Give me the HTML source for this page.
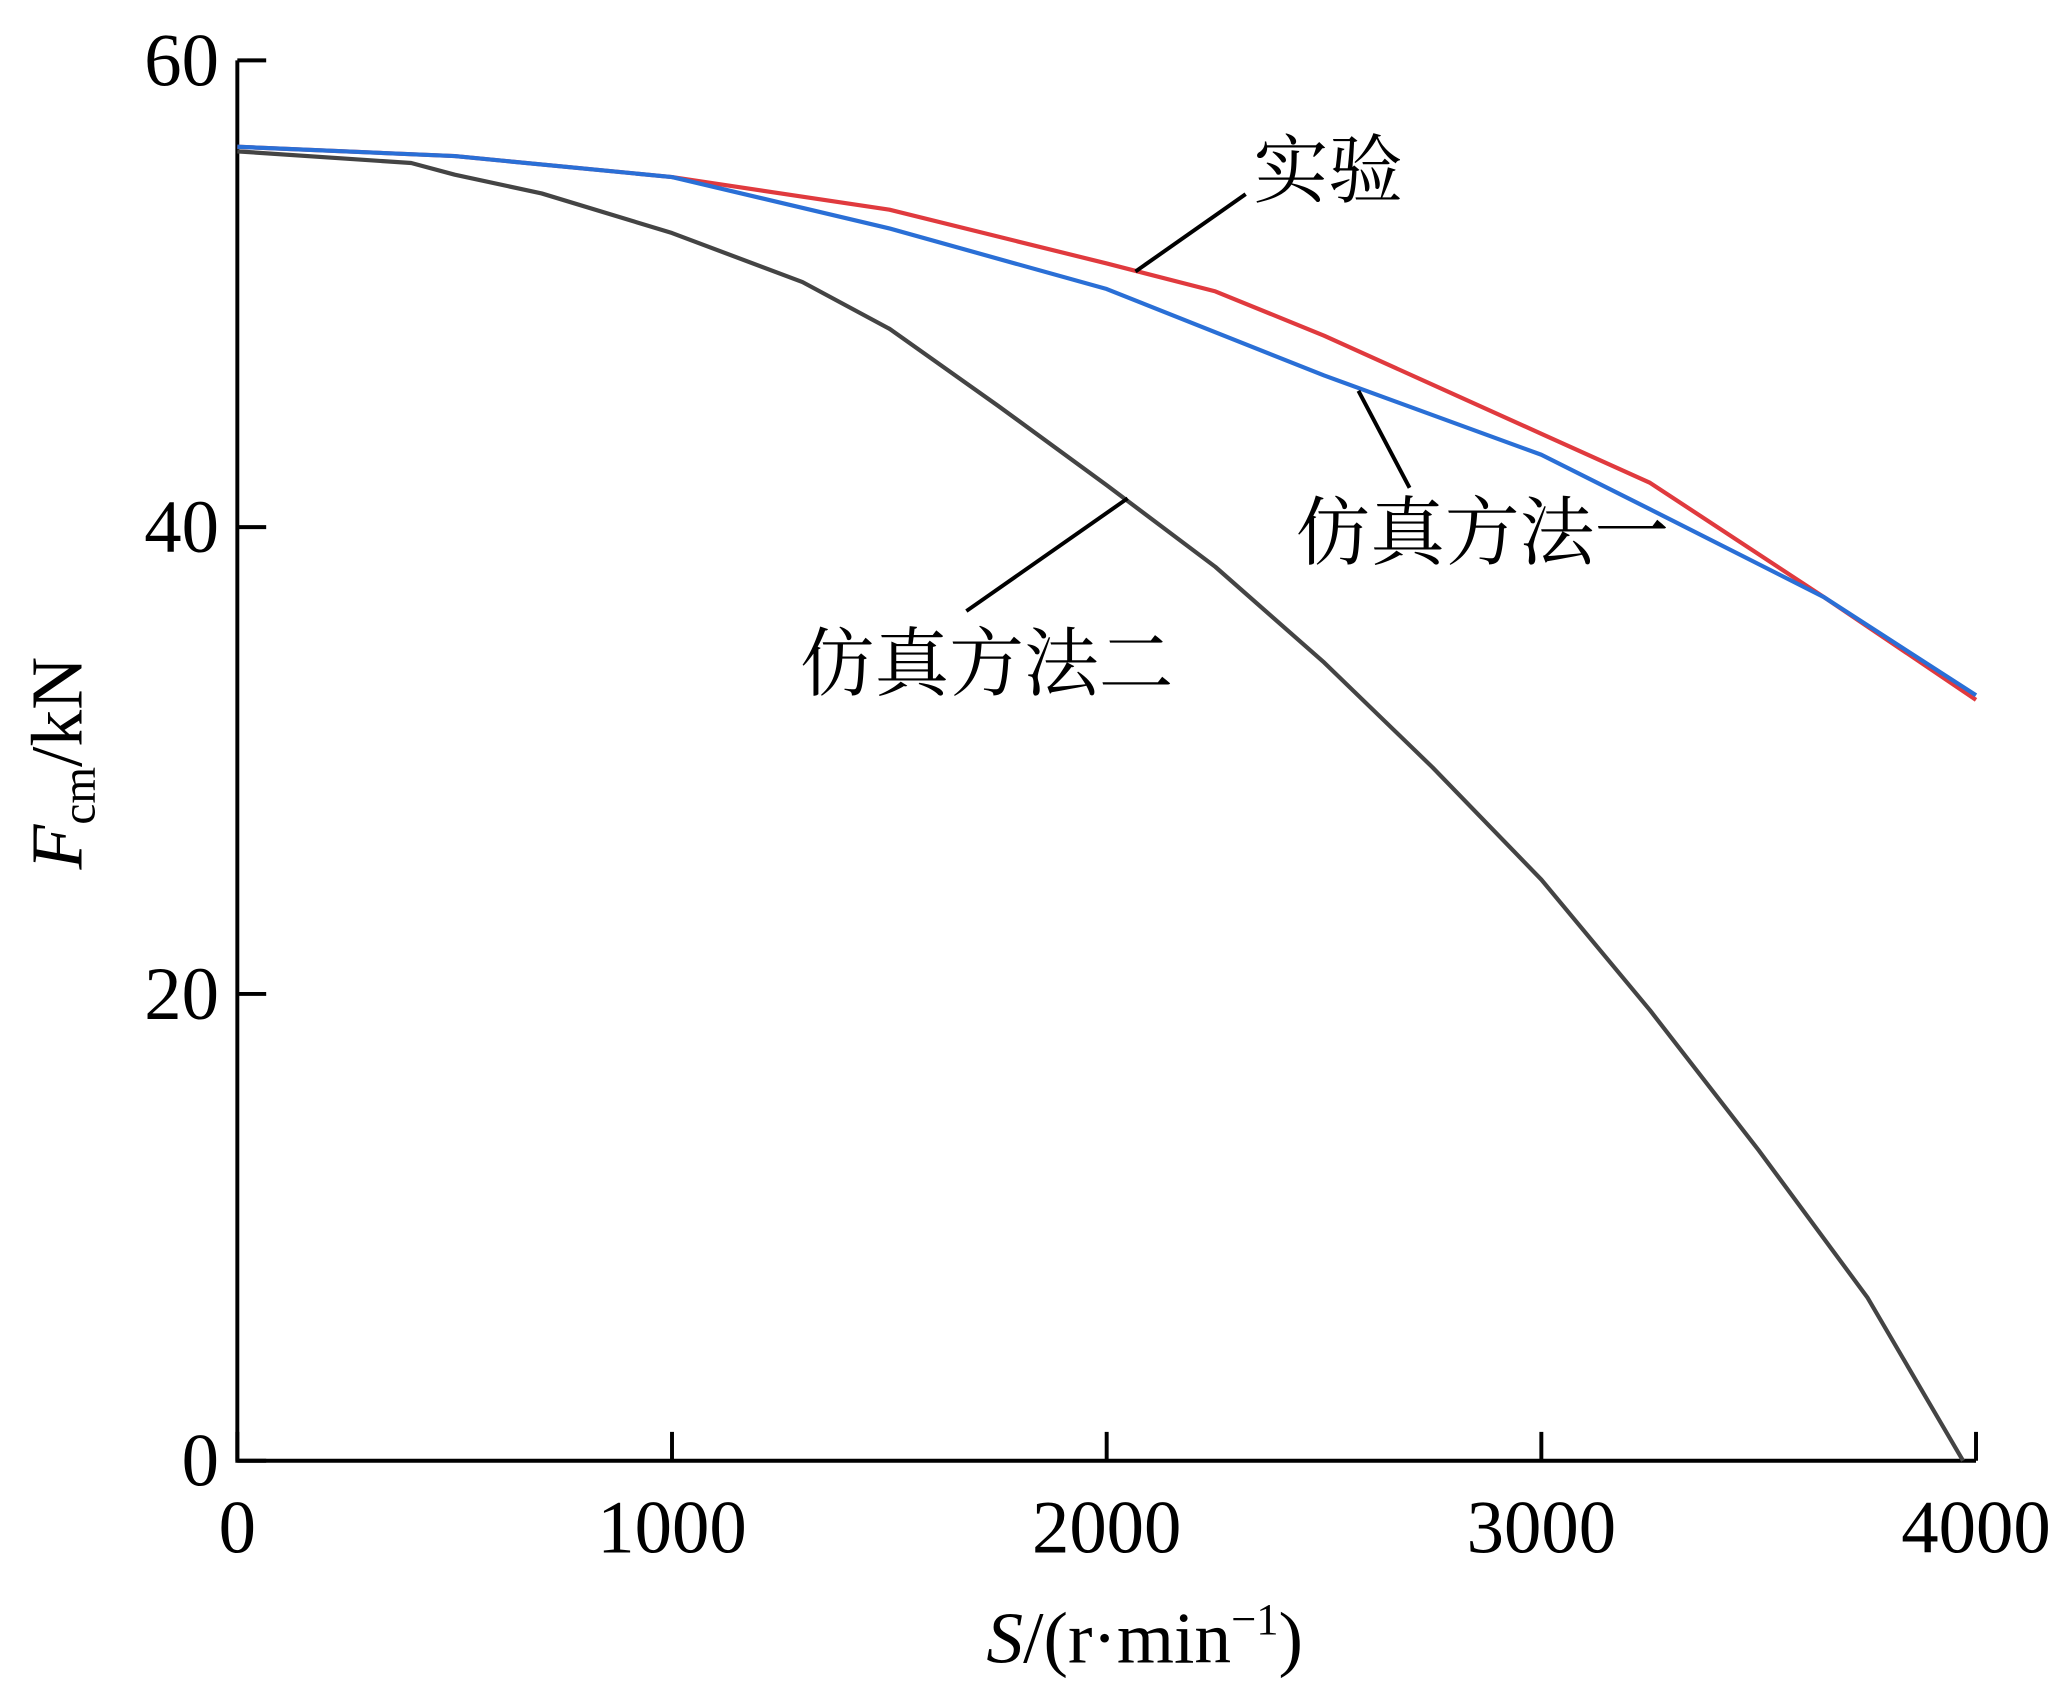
<!DOCTYPE html>
<html><head><meta charset="utf-8"><style>
html,body{margin:0;padding:0;background:#fff}
svg{display:block}
text{font-family:"Liberation Serif","Noto Serif CJK SC",serif;fill:#000}
</style></head><body>
<svg id="chart" width="2056" height="1685" viewBox="0 0 1568 1285" xmlns="http://www.w3.org/2000/svg">
<g id="axes"></g>
<g id="series"></g>
<g stroke="#000" stroke-width="3" fill="none">
<line x1="866" y1="207" x2="950" y2="148"/>
<line x1="1036" y1="298" x2="1075" y2="372"/>
<line x1="860" y1="380" x2="737" y2="466"/>
</g>
<text x="956" y="150" font-size="57">实验</text>
<text x="988" y="426" font-size="57">仿真方法一</text>
<text x="610" y="526" font-size="57">仿真方法二</text>
<text transform="translate(62,582) rotate(-90)" text-anchor="middle" font-size="56"><tspan font-style="italic">F</tspan><tspan font-size="36" dy="10">cm</tspan><tspan dy="-10">/kN</tspan></text>
<text x="873" y="1268" text-anchor="middle" font-size="56"><tspan font-style="italic">S</tspan>/(r·min<tspan font-size="34" dy="-22">−1</tspan><tspan dy="22">)</tspan></text>
</svg>
<script>
const xTicks=[0,1000,2000,3000,4000];
const yTicks=[0,20,40,60];
const expX=[0,500,1000,1500,2000,2250,2500,3000,3250,3650,4000];
const expY=[56.3,55.9,55.0,53.6,51.3,50.1,48.2,44.0,41.9,37.0,32.6];
const m1X=[0,500,1000,1500,2000,2500,3000,3300,3650,4000];
const m1Y=[56.3,55.9,55.0,52.8,50.2,46.5,43.1,40.3,37.0,32.8];
const m2X=[0,400,500,700,1000,1300,1500,1750,2000,2250,2500,2750,3000,3250,3500,3750,3970];
const m2Y=[56.1,55.6,55.1,54.3,52.6,50.5,48.5,45.2,41.8,38.3,34.2,29.7,24.9,19.3,13.3,7.0,0];
const X0=181,X1=1507,Y0=1114,Y1=46;
const sx=v=>X0+(X1-X0)*v/4000;
const sy=v=>Y0-(Y0-Y1)*v/60;
const NS="http://www.w3.org/2000/svg";
const axes=document.getElementById('axes');
function mk(tag,attrs,parent){const e=document.createElementNS(NS,tag);for(const k in attrs)e.setAttribute(k,attrs[k]);parent.appendChild(e);return e;}
let a=mk('path',{d:`M${X0} ${Y1}V${Y0}H${X1}`,stroke:'#000','stroke-width':3,fill:'none'},axes);


xTicks.forEach(t=>{
 let l=mk('line',{x1:sx(t),x2:sx(t),y1:Y0,y2:Y0-22,stroke:'#000','stroke-width':3},axes);
 
 
 let tx=mk('text',{x:sx(t),y:Y0+70,'text-anchor':'middle','font-size':57},axes);
 tx.textContent=t;
 
 
});
yTicks.forEach(t=>{
 let l=mk('line',{x1:X0,x2:X0+22,y1:sy(t),y2:sy(t),stroke:'#000','stroke-width':3},axes);
 
 
 let tx=mk('text',{x:X0-14,y:sy(t)+19,'text-anchor':'end','font-size':57},axes);
 tx.textContent=t;
 
 
});
const ser=document.getElementById('series');
function line(xs,ys,color,name){
 const d=xs.map((x,i)=>(i?'L':'M')+sx(x).toFixed(1)+' '+sy(ys[i]).toFixed(1)).join('');
 let p=mk('path',{d:d,stroke:color,'stroke-width':3.2,fill:'none','stroke-linejoin':'round'},ser);
 
 
}
line(m2X,m2Y,'#444','method-two-line');
line(expX,expY,'#e03a3e','experiment-line');
line(m1X,m1Y,'#2a6fd6','method-one-line');
</script>
</body></html>
